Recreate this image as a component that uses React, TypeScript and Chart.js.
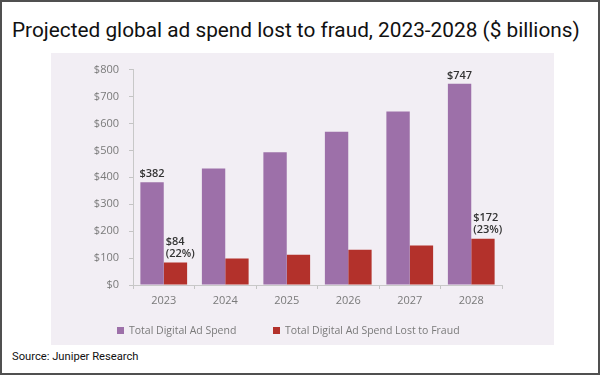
import React, { useEffect, useRef } from "react";
import { Chart, registerables } from "chart.js";

Chart.register(...registerables);

const years = ["2023", "2024", "2025", "2026", "2027", "2028"];
const totalSpend = [382, 433, 493, 569, 644, 747];
const fraudSpend = [84, 98, 112, 131, 147, 172];
const seriesNames = ["Total Digital Ad Spend", "Total Digital Ad Spend Lost to Fraud"];
const seriesColors = ["#9d70a9", "#b3312b"];
const totalLabels: (string[] | null)[] = [["$382"], null, null, null, null, ["$747"]];
const fraudLabels: (string[] | null)[] = [["$84", "(22%)"], null, null, null, null, ["$172", "(23%)"]];
const yMin = 0;
const yMax = 800;
const yStep = 100;

const titleText = "Projected global ad spend lost to fraud, 2023-2028 ($ billions)";
const sourceText = "Source: Juniper Research";

const labelPlugin = {
  id: "barLabels",
  afterDatasetsDraw(chart: any) {
    const ctx = chart.ctx;
    ctx.save();
    ctx.fillStyle = "#333333";
    ctx.font = "600 11px 'Open Sans'";
    ctx.textBaseline = "middle";
    const m0 = chart.getDatasetMeta(0);
    m0.data.forEach((el: any, i: number) => {
      const lines = totalLabels[i];
      if (!lines) return;
      ctx.textAlign = "center";
      ctx.fillText(lines[0], el.x, el.y - 8);
    });
    const m1 = chart.getDatasetMeta(1);
    m1.data.forEach((el: any, i: number) => {
      const lines = fraudLabels[i];
      if (!lines) return;
      ctx.textAlign = "left";
      const left = el.x - el.width / 2 + 2;
      const n = lines.length;
      lines.forEach((t, k) => {
        ctx.fillText(t, left, el.y - 9 - (n - 1 - k) * 12);
      });
    });
    ctx.restore();
  },
};

function App() {
  const canvasRef = useRef<HTMLCanvasElement | null>(null);

  useEffect(() => {
    if (!canvasRef.current) return;
    const chart = new Chart(canvasRef.current, {
      type: "bar",
      data: {
        labels: years,
        datasets: [
          { label: seriesNames[0], data: totalSpend, backgroundColor: seriesColors[0] },
          { label: seriesNames[1], data: fraudSpend, backgroundColor: seriesColors[1] },
        ],
      },
      options: {
        animation: false,
        responsive: false,
        maintainAspectRatio: false,
        layout: { padding: { top: 10, right: 52, bottom: 30, left: 0 } },
        datasets: { bar: { categoryPercentage: 0.76, barPercentage: 1 } },
        plugins: { legend: { display: false }, tooltip: { enabled: false }, title: { display: false } },
        scales: {
          x: {
            grid: { display: true, drawOnChartArea: false, offset: true, tickLength: 4, color: "#c4c4c4" },
            border: { color: "#c8c8c8" },
            ticks: { color: "#7a7a7a", font: { family: "'Open Sans'", size: 11 }, padding: 5 },
            afterFit: (s: any) => {
              s.height = 30;
            },
          },
          y: {
            min: yMin,
            max: yMax,
            grid: { display: true, drawOnChartArea: false, tickLength: 4, color: "#c4c4c4" },
            border: { color: "#c8c8c8" },
            ticks: {
              stepSize: yStep,
              color: "#7a7a7a",
              font: { family: "'Open Sans'", size: 11 },
              padding: 10,
              callback: (v: any) => "$" + v,
            },
            afterFit: (s: any) => {
              s.width = 82;
            },
          },
        },
      },
      plugins: [labelPlugin],
    });
    return () => chart.destroy();
  }, []);

  return (
    <div style={{ position: "absolute", left: 0, top: 0, width: 600, height: 375, background: "#ffffff", overflow: "hidden" }}>
      <div
        style={{
          position: "absolute",
          left: 12,
          top: 17,
          fontFamily: "Roboto",
          fontSize: 20.8,
          lineHeight: "26px",
          color: "#111111",
          whiteSpace: "nowrap",
        }}
      >
        {titleText}
      </div>
      <div style={{ position: "absolute", left: 51, top: 53, width: 503, height: 292, background: "#f2eef4" }}>
        <canvas ref={canvasRef} width={503} height={292} style={{ display: "block" }} />
        {seriesNames.map((name, i) => (
          <div
            key={name}
            style={{
              position: "absolute",
              left: i === 0 ? 66 : 222,
              top: 269,
              height: 16,
              display: "flex",
              alignItems: "center",
              fontFamily: "'Open Sans'",
              fontSize: 10.5,
              color: "#7a7a7a",
              whiteSpace: "nowrap",
            }}
          >
            <span style={{ display: "inline-block", width: 7, height: 7, background: seriesColors[i], marginRight: 5 }} />
            {name}
          </div>
        ))}
      </div>
      <div
        style={{
          position: "absolute",
          left: 12,
          top: 349,
          fontFamily: "Roboto",
          fontSize: 11.2,
          lineHeight: "16px",
          color: "#111111",
          whiteSpace: "nowrap",
        }}
      >
        {sourceText}
      </div>
      <div
        style={{
          position: "absolute",
          left: 0,
          top: 0,
          width: 600,
          height: 375,
          boxSizing: "border-box",
          border: "2px solid #505050",
          pointerEvents: "none",
        }}
      />
    </div>
  );
}

export default App;
